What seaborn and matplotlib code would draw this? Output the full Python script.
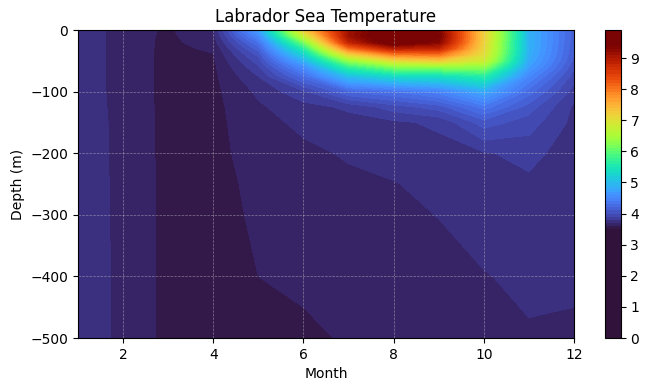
import numpy as np
import matplotlib
matplotlib.use("Agg")
import matplotlib.pyplot as plt
import seaborn as sns

# Meses y profundidades (m)
months = np.arange(1, 13)
depths = [0, 10, 20, 30, 40, 50, 60, 75, 100, 125, 150, 200, 250, 300, 400, 500]

# Perfiles de temperatura por mes
t_jan = [3.78, 3.78, 3.78, 3.78, 3.78, 3.78, 3.78, 3.78, 3.78, 3.78, 3.78, 3.78, 3.78, 3.78, 3.78, 3.78]
t_feb = [3.65, 3.65, 3.65, 3.65, 3.65, 3.65, 3.65, 3.65, 3.65, 3.655, 3.66, 3.66, 3.665, 3.665, 3.67, 3.67]
t_mar = [3.585, 3.58, 3.578, 3.577, 3.577, 3.576, 3.576, 3.576, 3.575, 3.575, 3.575, 3.575, 3.574, 3.574, 3.573, 3.573]
t_apr = [3.69, 3.67, 3.645, 3.615, 3.595, 3.585, 3.578, 3.575, 3.573, 3.57, 3.568, 3.566, 3.56, 3.555, 3.552, 3.55]
t_may = [4.7, 4.5, 4.3, 4.15, 4.03, 3.95, 3.88, 3.8, 3.72, 3.685, 3.67, 3.65, 3.63, 3.62, 3.6, 3.57]
t_jun = [7.2, 6.7, 6.1, 5.6, 5.2, 4.85, 4.55, 4.25, 3.88, 3.76, 3.72, 3.68, 3.66, 3.64, 3.61, 3.59]
t_jul = [9.1, 9.1, 8.8, 8.0, 7.1, 6.3, 5.7, 5.0, 4.2, 3.82, 3.76, 3.71, 3.68, 3.66, 3.63, 3.605]
t_aug = [9.75, 9.85, 9.7, 8.9, 7.9, 7.0, 6.2, 5.3, 4.3, 3.95, 3.78, 3.74, 3.695, 3.68, 3.65, 3.62]
t_sep = [9.35, 9.45, 9.3, 8.8, 8.0, 7.2, 6.3, 5.35, 4.45, 4.05, 3.82, 3.76, 3.73, 3.702, 3.67, 3.64]
t_oct = [7.2, 7.2, 7.15, 7.1, 7.0, 6.8, 6.3, 5.6, 4.8, 4.35, 4.05, 3.79, 3.76, 3.74, 3.695, 3.675]
t_nov = [4.9, 4.9, 4.9, 4.88, 4.85, 4.8, 4.7, 4.5, 4.25, 4.05, 3.95, 3.83, 3.78, 3.75, 3.72, 3.69]
t_dec = [4.15, 4.14, 4.13, 4.12, 4.1, 4.07, 4.02, 3.95, 3.85, 3.78, 3.77, 3.75, 3.74, 3.73, 3.71, 3.69]

# Matriz profundidad x mes
temp = np.array([t_jan, t_feb, t_mar, t_apr, t_may, t_jun,
                 t_jul, t_aug, t_sep, t_oct, t_nov, t_dec]).T
X, Y = np.meshgrid(months, -np.array(depths))

cmap = sns.color_palette("turbo", as_cmap=True)
levels = np.arange(0, 9.95, 0.1)

fig = plt.figure(figsize=(6.48, 3.91), dpi=100)
ax = fig.add_axes([0.1204, 0.1355, 0.7654, 0.7877])
cax = fig.add_axes([0.9336, 0.1355, 0.0242, 0.7877])

cs = ax.contourf(X, Y, temp, levels=levels, cmap=cmap, vmin=3.5, vmax=9.4)
cb = fig.colorbar(cs, cax=cax, ticks=range(10))

ax.set_xlim(1, 12)
ax.set_ylim(-500, 0)
ax.set_xticks([2, 4, 6, 8, 10, 12])
ax.set_yticks([0, -100, -200, -300, -400, -500])
ax.grid(True, linestyle='--', linewidth=0.5, color='lightgray', alpha=0.5)
ax.set_xlabel('Month')
ax.set_ylabel('Depth (m)')
ax.set_title('Labrador Sea Temperature')

fig.savefig('out.png', dpi=100)
